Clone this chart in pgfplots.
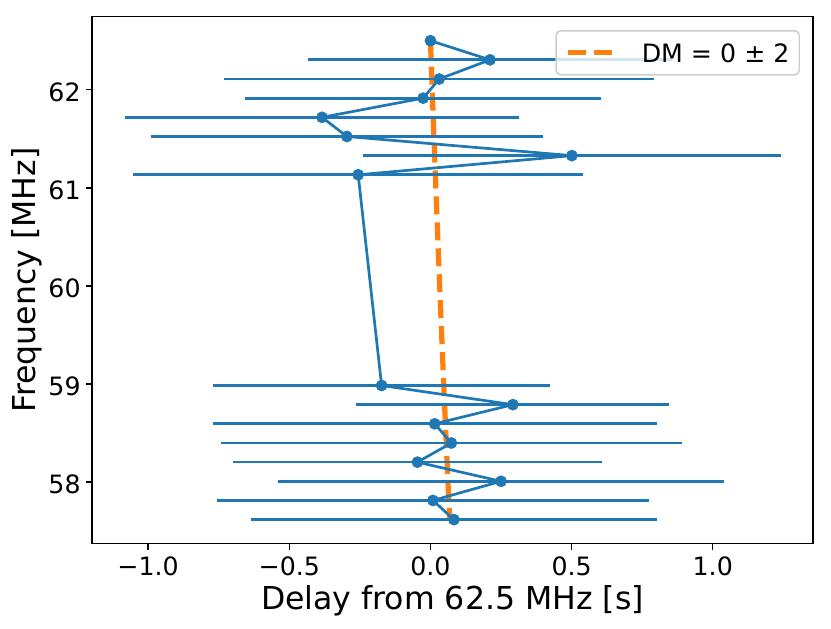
\documentclass[border=0pt]{standalone}
\usepackage{pgfplots}
\pgfplotsset{compat=1.18}
\usepackage{pgfplotstable}
\usepackage{fontspec}
\setmainfont{DejaVu Sans}
\definecolor{c0}{HTML}{1F77B4}
\definecolor{c1}{HTML}{FF7F0E}

\pgfplotstableread{
f d e
62.5000 0.000 0.000
62.3047 0.211 0.643
62.1094 0.031 0.762
61.9141 -0.026 0.630
61.7188 -0.384 0.698
61.5234 -0.296 0.695
61.3281 0.501 0.739
61.1328 -0.256 0.797
58.9844 -0.173 0.596
58.7891 0.292 0.554
58.5938 0.015 0.787
58.3984 0.074 0.817
58.2031 -0.046 0.653
58.0078 0.250 0.789
57.8125 0.009 0.766
57.6172 0.083 0.718
}\bluedata

\pgfplotstableread{
f d
62.5000 0.0000
62.0000 0.0062
61.5000 0.0126
61.0000 0.0192
60.5000 0.0259
60.0000 0.0327
59.5000 0.0398
59.0000 0.0470
58.5000 0.0544
58.0000 0.0620
57.6172 0.0680
}\dmdata

\begin{document}
\begin{tikzpicture}
\begin{axis}[
  scale only axis, width=399.8pt, height=292pt,
  xmin=-1.199, xmax=1.355, ymin=57.375, ymax=62.744,
  axis line style={line width=0.8pt, black},
  tick style={line width=0.8pt, black},
  major tick length=3.5pt,
  tick align=outside,
  xtick pos=left, ytick pos=left,
  minor tick num=0,
  xtick={-1,-0.5,0,0.5,1},
  xticklabels={−1.0,−0.5,0.0,0.5,1.0},
  ytick={58,59,60,61,62},
  yticklabels={58,59,60,61,62},
  ticklabel style={font=\fontsize{14}{16}\selectfont, inner sep=0pt},
  xticklabel style={anchor=north, yshift=-3.9pt},
  yticklabel style={anchor=east, xshift=-2.6pt, yshift=-1.2pt},
  xlabel={Delay from 62.5 MHz [s]},
  xlabel style={at={(axis description cs:0.5,-0.1253)}, anchor=base, inner sep=0pt, font=\fontsize{17.5}{20}\selectfont},
  ylabel={Frequency [MHz]},
  ylabel style={at={(axis description cs:-0.0786,0.5)}, anchor=base, inner sep=0pt, font=\fontsize{17.5}{20}\selectfont},
  legend style={at={(1,1)}, anchor=north east, xshift=-7.2pt, yshift=-7.4pt,
    draw=black!20, line width=0.8pt, rounded corners=2.5pt, fill=white,
    fill opacity=0.8, text opacity=1,
    inner xsep=5.4pt, inner ysep=7pt,
    font=\fontsize{14}{16}\selectfont,
    nodes={inner sep=0pt, text depth=0pt},
    /tikz/every odd column/.append style={column sep=10.8pt}},
  legend image code/.code={\draw[#1] (0pt,0pt) -- (28.4pt,0pt);},
]
\addplot[c1, line width=2.9pt, dash pattern=on 10pt off 4.4pt, line cap=butt] table[x=d, y=f] {\dmdata};
\addlegendentry{DM = 0 ± 2}
\addplot[c0, line width=1.5pt, mark=*, mark size=3.1pt,
  mark options={solid, fill=c0, draw=c0, line width=0.3pt},
  error bars/.cd, x dir=both, x explicit, error mark=none,
  error bar style={line width=1.5pt, c0, solid}]
  table[x=d, y=f, x error=e] {\bluedata};
\end{axis}
\pgfresetboundingbox
\path[use as bounding box] (-51.0pt,-47.0pt) rectangle (409.8pt,301.3pt);
\end{tikzpicture}
\end{document}
